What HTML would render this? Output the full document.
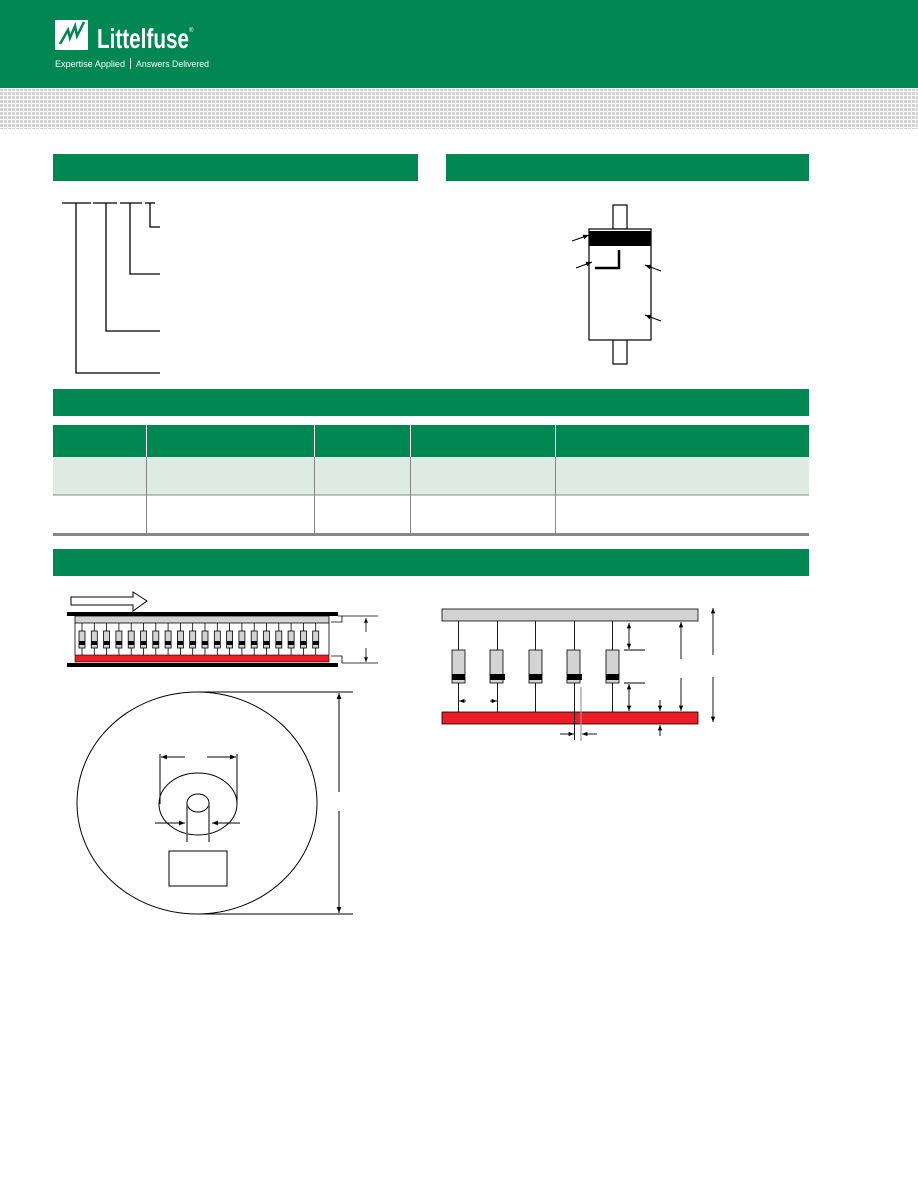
<!DOCTYPE html>
<html><head><meta charset="utf-8"><style>
html,body{margin:0;padding:0;background:#fff;}
svg{display:block;}
</style></head><body>
<svg width="918" height="1188" viewBox="0 0 918 1188" xmlns="http://www.w3.org/2000/svg" font-family="Liberation Sans, sans-serif">
<defs>
<pattern id="dots" x="0" y="0" width="4" height="4" patternUnits="userSpaceOnUse">
<rect width="3" height="3" fill="#d2d2d2"/>
</pattern>
<marker id="ah" viewBox="0 0 10 10" refX="10" refY="5" markerWidth="6" markerHeight="6" orient="auto-start-reverse"><path d="M0,1 L10,5 L0,9 z" fill="#000"/></marker>
</defs>
<!-- header -->
<rect x="0" y="0" width="918" height="88" fill="#008752"/>
<rect x="0" y="89" width="918" height="40" fill="url(#dots)"/>
<rect x="55" y="20" width="33" height="30" fill="#fff"/>
<path d="M60,44 L68,30 L70,38 L75,26 L77,36 L84,22" stroke="#008752" stroke-width="2.5" fill="none"/>
<text x="97" y="48" fill="#fff" font-size="28" font-weight="bold" textLength="92" lengthAdjust="spacingAndGlyphs">Littelfuse</text>
<text x="189" y="32" fill="#fff" font-size="6">®</text>
<text x="55" y="67" fill="#fff" font-size="9.5" textLength="70" lengthAdjust="spacingAndGlyphs">Expertise Applied</text>
<rect x="130" y="58" width="1" height="11" fill="#fff"/>
<text x="136" y="67" fill="#fff" font-size="9.5" textLength="73" lengthAdjust="spacingAndGlyphs">Answers Delivered</text>
<!-- section bars -->
<rect x="53" y="154" width="365" height="27" fill="#008752"/>
<rect x="446" y="154" width="363" height="27" fill="#008752"/>
<rect x="53" y="389" width="756" height="27" fill="#008752"/>
<rect x="53" y="549" width="756" height="27" fill="#008752"/>
<!-- table -->
<rect x="53" y="425" width="756" height="32" fill="#008752"/>
<rect x="53" y="457" width="756" height="38" fill="#ddebe4"/>
<line x1="53" y1="495" x2="809" y2="495" stroke="#888" stroke-width="1"/>
<rect x="53" y="533" width="756" height="3" fill="#85858a"/>
<g stroke="#fff" stroke-width="1"><line x1="146.5" y1="425" x2="146.5" y2="457"/><line x1="314.5" y1="425" x2="314.5" y2="457"/><line x1="410.5" y1="425" x2="410.5" y2="457"/><line x1="555.5" y1="425" x2="555.5" y2="457"/></g>
<g stroke="#888" stroke-width="1"><line x1="146.5" y1="457" x2="146.5" y2="533"/><line x1="314.5" y1="457" x2="314.5" y2="533"/><line x1="410.5" y1="457" x2="410.5" y2="533"/><line x1="555.5" y1="457" x2="555.5" y2="533"/></g>
<!-- part number tree -->
<g stroke="#000" stroke-width="1.3" fill="none">
<line x1="62" y1="203" x2="91" y2="203"/><line x1="93" y1="203" x2="117" y2="203"/><line x1="120" y1="203" x2="142" y2="203"/><line x1="145" y1="203" x2="155" y2="203"/>
<polyline points="76,203 76,373 160,373"/>
<polyline points="106,203 106,331 160,331"/>
<polyline points="130,203 130,274 160,274"/>
<polyline points="150,203 150,227 160,227"/>
</g>
<!-- diode -->
<g stroke="#000" stroke-width="1.2" fill="#fff">
<rect x="613" y="205" width="14" height="24"/>
<rect x="613" y="340" width="14" height="24"/>
<rect x="589" y="229" width="62" height="111"/>
</g>
<rect x="589" y="231" width="62" height="15" fill="#000"/>
<polyline points="595,268 619,268 619,250" stroke="#000" stroke-width="2.5" fill="none"/>
<g stroke="#000" stroke-width="1" marker-end="url(#ah)">
<line x1="572" y1="241" x2="589" y2="235"/><line x1="576" y1="268" x2="592" y2="262"/>
<line x1="661" y1="271" x2="645" y2="265"/><line x1="661" y1="321" x2="645" y2="315"/>
</g>
<!-- tape -->
<path d="M71,597 L133,597 L133,592 L147,601 L133,611 L133,605 L71,605 z" fill="#fff" stroke="#000" stroke-width="1"/>
<rect x="67" y="612" width="271" height="4" fill="#000"/>
<rect x="75" y="616" width="254" height="7" fill="#d3d3d3" stroke="#000" stroke-width="0.8"/>
<line x1="75" y1="623" x2="75" y2="655" stroke="#000" stroke-width="0.8"/>
<line x1="329" y1="623" x2="329" y2="655" stroke="#000" stroke-width="0.8"/>
<g>
<g transform="translate(0,0)"><line x1="82" y1="623" x2="82" y2="655" stroke="#000" stroke-width="0.8"/><rect x="79" y="631" width="6" height="17" fill="#d3d3d3" stroke="#000" stroke-width="0.8"/><rect x="79" y="641" width="6" height="4" fill="#000"/></g>
<g transform="translate(12.3,0)"><line x1="82" y1="623" x2="82" y2="655" stroke="#000" stroke-width="0.8"/><rect x="79" y="631" width="6" height="17" fill="#d3d3d3" stroke="#000" stroke-width="0.8"/><rect x="79" y="641" width="6" height="4" fill="#000"/></g>
<g transform="translate(24.6,0)"><line x1="82" y1="623" x2="82" y2="655" stroke="#000" stroke-width="0.8"/><rect x="79" y="631" width="6" height="17" fill="#d3d3d3" stroke="#000" stroke-width="0.8"/><rect x="79" y="641" width="6" height="4" fill="#000"/></g>
<g transform="translate(36.9,0)"><line x1="82" y1="623" x2="82" y2="655" stroke="#000" stroke-width="0.8"/><rect x="79" y="631" width="6" height="17" fill="#d3d3d3" stroke="#000" stroke-width="0.8"/><rect x="79" y="641" width="6" height="4" fill="#000"/></g>
<g transform="translate(49.2,0)"><line x1="82" y1="623" x2="82" y2="655" stroke="#000" stroke-width="0.8"/><rect x="79" y="631" width="6" height="17" fill="#d3d3d3" stroke="#000" stroke-width="0.8"/><rect x="79" y="641" width="6" height="4" fill="#000"/></g>
<g transform="translate(61.5,0)"><line x1="82" y1="623" x2="82" y2="655" stroke="#000" stroke-width="0.8"/><rect x="79" y="631" width="6" height="17" fill="#d3d3d3" stroke="#000" stroke-width="0.8"/><rect x="79" y="641" width="6" height="4" fill="#000"/></g>
<g transform="translate(73.8,0)"><line x1="82" y1="623" x2="82" y2="655" stroke="#000" stroke-width="0.8"/><rect x="79" y="631" width="6" height="17" fill="#d3d3d3" stroke="#000" stroke-width="0.8"/><rect x="79" y="641" width="6" height="4" fill="#000"/></g>
<g transform="translate(86.1,0)"><line x1="82" y1="623" x2="82" y2="655" stroke="#000" stroke-width="0.8"/><rect x="79" y="631" width="6" height="17" fill="#d3d3d3" stroke="#000" stroke-width="0.8"/><rect x="79" y="641" width="6" height="4" fill="#000"/></g>
<g transform="translate(98.4,0)"><line x1="82" y1="623" x2="82" y2="655" stroke="#000" stroke-width="0.8"/><rect x="79" y="631" width="6" height="17" fill="#d3d3d3" stroke="#000" stroke-width="0.8"/><rect x="79" y="641" width="6" height="4" fill="#000"/></g>
<g transform="translate(110.7,0)"><line x1="82" y1="623" x2="82" y2="655" stroke="#000" stroke-width="0.8"/><rect x="79" y="631" width="6" height="17" fill="#d3d3d3" stroke="#000" stroke-width="0.8"/><rect x="79" y="641" width="6" height="4" fill="#000"/></g>
<g transform="translate(123,0)"><line x1="82" y1="623" x2="82" y2="655" stroke="#000" stroke-width="0.8"/><rect x="79" y="631" width="6" height="17" fill="#d3d3d3" stroke="#000" stroke-width="0.8"/><rect x="79" y="641" width="6" height="4" fill="#000"/></g>
<g transform="translate(135.3,0)"><line x1="82" y1="623" x2="82" y2="655" stroke="#000" stroke-width="0.8"/><rect x="79" y="631" width="6" height="17" fill="#d3d3d3" stroke="#000" stroke-width="0.8"/><rect x="79" y="641" width="6" height="4" fill="#000"/></g>
<g transform="translate(147.6,0)"><line x1="82" y1="623" x2="82" y2="655" stroke="#000" stroke-width="0.8"/><rect x="79" y="631" width="6" height="17" fill="#d3d3d3" stroke="#000" stroke-width="0.8"/><rect x="79" y="641" width="6" height="4" fill="#000"/></g>
<g transform="translate(159.9,0)"><line x1="82" y1="623" x2="82" y2="655" stroke="#000" stroke-width="0.8"/><rect x="79" y="631" width="6" height="17" fill="#d3d3d3" stroke="#000" stroke-width="0.8"/><rect x="79" y="641" width="6" height="4" fill="#000"/></g>
<g transform="translate(172.2,0)"><line x1="82" y1="623" x2="82" y2="655" stroke="#000" stroke-width="0.8"/><rect x="79" y="631" width="6" height="17" fill="#d3d3d3" stroke="#000" stroke-width="0.8"/><rect x="79" y="641" width="6" height="4" fill="#000"/></g>
<g transform="translate(184.5,0)"><line x1="82" y1="623" x2="82" y2="655" stroke="#000" stroke-width="0.8"/><rect x="79" y="631" width="6" height="17" fill="#d3d3d3" stroke="#000" stroke-width="0.8"/><rect x="79" y="641" width="6" height="4" fill="#000"/></g>
<g transform="translate(196.8,0)"><line x1="82" y1="623" x2="82" y2="655" stroke="#000" stroke-width="0.8"/><rect x="79" y="631" width="6" height="17" fill="#d3d3d3" stroke="#000" stroke-width="0.8"/><rect x="79" y="641" width="6" height="4" fill="#000"/></g>
<g transform="translate(209.1,0)"><line x1="82" y1="623" x2="82" y2="655" stroke="#000" stroke-width="0.8"/><rect x="79" y="631" width="6" height="17" fill="#d3d3d3" stroke="#000" stroke-width="0.8"/><rect x="79" y="641" width="6" height="4" fill="#000"/></g>
<g transform="translate(221.4,0)"><line x1="82" y1="623" x2="82" y2="655" stroke="#000" stroke-width="0.8"/><rect x="79" y="631" width="6" height="17" fill="#d3d3d3" stroke="#000" stroke-width="0.8"/><rect x="79" y="641" width="6" height="4" fill="#000"/></g>
<g transform="translate(233.7,0)"><line x1="82" y1="623" x2="82" y2="655" stroke="#000" stroke-width="0.8"/><rect x="79" y="631" width="6" height="17" fill="#d3d3d3" stroke="#000" stroke-width="0.8"/><rect x="79" y="641" width="6" height="4" fill="#000"/></g>
</g>
<rect x="75" y="655" width="254" height="7" fill="#ee1c25" stroke="#000" stroke-width="0.6"/>
<rect x="67" y="663" width="271" height="4" fill="#000"/>
<g stroke="#000" stroke-width="0.8" fill="none">
<polyline points="338,616 342,616 342,622 331,622"/>
<polyline points="331,656 342,656 342,663"/>
<line x1="342" y1="616" x2="378" y2="616"/><line x1="342" y1="663" x2="378" y2="663"/>
<line x1="366" y1="618" x2="366" y2="632" marker-start="url(#ah)"/>
<line x1="366" y1="648" x2="366" y2="662" marker-end="url(#ah)"/>
</g>
<!-- reel -->
<g stroke="#000" stroke-width="1" fill="none">
<ellipse cx="197" cy="803" rx="120" ry="111"/>
<ellipse cx="198" cy="804" rx="39" ry="31"/>
<ellipse cx="198" cy="803" rx="11" ry="9"/>
<line x1="187" y1="803" x2="187" y2="842" stroke="#555" stroke-width="1.5"/>
<line x1="209" y1="803" x2="209" y2="842" stroke="#555" stroke-width="1.5"/>
<rect x="169" y="851" width="58" height="35"/>
<line x1="160" y1="754" x2="160" y2="804"/><line x1="237" y1="754" x2="237" y2="804"/>
<line x1="185" y1="757" x2="161" y2="757" marker-end="url(#ah)"/>
<line x1="207" y1="757" x2="236" y2="757" marker-end="url(#ah)"/>
<line x1="155" y1="823" x2="185" y2="823" marker-end="url(#ah)"/>
<line x1="240" y1="823" x2="212" y2="823" marker-end="url(#ah)"/>
<line x1="197" y1="692" x2="353" y2="692"/><line x1="197" y1="914" x2="353" y2="914"/>
<line x1="339" y1="792" x2="339" y2="693" marker-end="url(#ah)"/>
<line x1="339" y1="811" x2="339" y2="913" marker-end="url(#ah)"/>
</g>
<!-- ammo -->
<rect x="442" y="609" width="256" height="12" fill="#d3d3d3" stroke="#000" stroke-width="0.8"/>
<rect x="442" y="712" width="256" height="12" fill="#ee1c25" stroke="#000" stroke-width="0.8"/>
<g stroke="#000" stroke-width="0.9">
<line x1="458.5" y1="621" x2="458.5" y2="712"/><line x1="497.5" y1="621" x2="497.5" y2="712"/><line x1="535.5" y1="621" x2="535.5" y2="712"/><line x1="574.5" y1="621" x2="574.5" y2="740"/><line x1="612.5" y1="621" x2="612.5" y2="712"/>
</g>
<g fill="#d3d3d3" stroke="#000" stroke-width="0.8">
<rect x="452" y="650" width="13" height="33"/><rect x="490" y="650" width="13" height="33"/><rect x="529" y="650" width="13" height="33"/><rect x="567" y="650" width="13" height="33"/><rect x="606" y="650" width="13" height="33"/>
</g>
<g fill="#000">
<rect x="452" y="674" width="13" height="6"/><rect x="490" y="674" width="15" height="6"/><rect x="529" y="674" width="13" height="6"/><rect x="567" y="674" width="15" height="6"/><rect x="606" y="674" width="13" height="6"/>
</g>
<line x1="581" y1="687" x2="581" y2="741" stroke="#999" stroke-width="1.2"/>
<g stroke="#000" stroke-width="0.9" fill="none">
<line x1="624" y1="650" x2="645" y2="650"/><line x1="624" y1="683" x2="645" y2="683"/>
<line x1="629" y1="623" x2="629" y2="649" marker-start="url(#ah)" marker-end="url(#ah)"/>
<line x1="629" y1="684" x2="629" y2="711" marker-start="url(#ah)" marker-end="url(#ah)"/>
<line x1="681" y1="659" x2="681" y2="622" marker-end="url(#ah)"/>
<line x1="681" y1="678" x2="681" y2="711" marker-end="url(#ah)"/>
<line x1="713" y1="655" x2="713" y2="608" marker-end="url(#ah)"/>
<line x1="713" y1="677" x2="713" y2="722" marker-end="url(#ah)"/>
<line x1="660" y1="700" x2="660" y2="711" marker-end="url(#ah)"/>
<line x1="660" y1="736" x2="660" y2="725" marker-end="url(#ah)"/>
<line x1="560" y1="734" x2="574" y2="734" marker-end="url(#ah)"/>
<line x1="597" y1="734" x2="582" y2="734" marker-end="url(#ah)"/>
<line x1="466" y1="701" x2="459" y2="701" marker-end="url(#ah)"/>
<line x1="490" y1="701" x2="497" y2="701" marker-end="url(#ah)"/>
</g>
</svg>
</body></html>
